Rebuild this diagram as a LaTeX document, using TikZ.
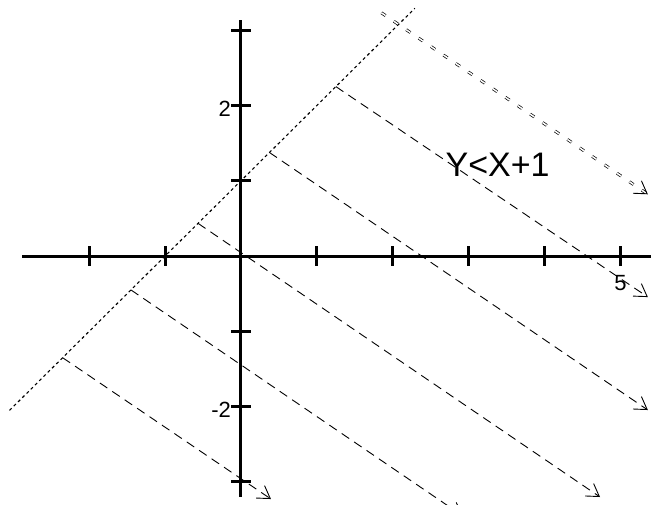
\documentclass[tikz,border=0pt]{standalone}
\usepackage{fontspec}
\setmainfont{Liberation Sans}
\usetikzlibrary{arrows.meta}

\begin{document}
\begin{tikzpicture}[x=75.9pt, y=75.3pt,
        axis/.style={line width=3pt},
        boundary/.style={line width=1.1pt, dash pattern=on 3pt off 3pt},
        shade/.style={line width=0.9pt, dash pattern=on 9pt off 6pt,
            -{Straight Barb[length=12pt, width=15pt, line width=0.9pt]}},
        ticklabel/.style={inner sep=0pt, font=\fontsize{22}{26}\selectfont}]
        \useasboundingbox (-3.175,-3.293) rectangle (5.441,3.4);

        % Axes
        \draw[axis] (-2.88,0) -- (5.4,0);
        \draw[axis] (0,3.13) -- (0,-3.2);

        % Ticks
        \foreach \x in {-2,-1,1,2,3,4,5}
            \draw[axis] (\x,-0.13) -- (\x,0.13);
        \foreach \y in {-3,-2,-1,1,2,3}
            \draw[axis] (-0.13,\y) -- (0.13,\y);

        \node[ticklabel, anchor=east] (ytwo) at (-0.13,1.96) {2};
        \node[ticklabel, anchor=east] (ymtwo) at (-0.13,-2.04) {-2};
        \node[ticklabel, anchor=north] (xfive) at (5,-0.25) {5};

        % Boundary line: y = x + 1
        \draw[boundary] (-3.05,-2.05) -- (2.29,3.29);

        % Shading arrows below the line
        \draw[shade] (-2.35,-1.35) -- (0.395,-3.227);
        \draw[shade] (-1.45,-0.45) -- (2.92,-3.45);
        \draw[shade] (-0.566,0.434) -- (4.73,-3.2);
        \draw[shade] (0.375,1.375) -- (5.36,-2.045);
        \draw[shade] (1.25,2.25) -- (5.36,-0.545);
        \draw[shade, double, double distance=1.5pt, line width=0.7pt,
            dash pattern=on 5pt off 10pt] (1.85,3.23) -- (5.36,0.82);

        \node[font=\fontsize{34}{40}\selectfont, anchor=base] (ineq) at (3.38,1.05) {Y<X+1};
    \end{tikzpicture}
\end{document}
